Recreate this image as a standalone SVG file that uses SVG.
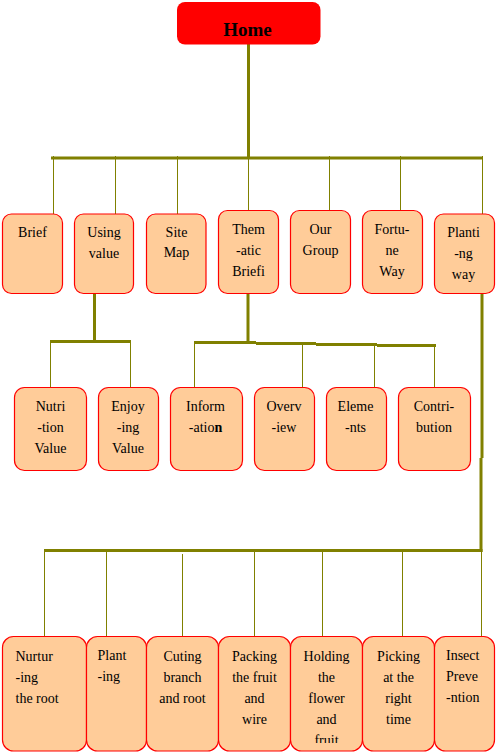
<svg xmlns="http://www.w3.org/2000/svg" width="498" height="755" viewBox="0 0 498 755" font-family="Liberation Serif, Times New Roman, serif">
<style>
.box{fill:#FFCC99;stroke:#FF0000;stroke-width:1.2}
.t{font-size:14px;fill:#000;text-anchor:middle}
.l{text-anchor:start}
.thick{stroke:#808000;stroke-width:3;fill:none}
.thin{stroke:#808000;stroke-width:1;fill:none}
</style>
<defs>
<clipPath id="clipHold"><rect x="290" y="636" width="73" height="107"/></clipPath>
</defs>
<g id="connectors">
<line class="thick" x1="248.5" y1="41" x2="248.5" y2="158"/>
<line class="thick" x1="51" y1="158" x2="483" y2="158"/>
<line class="thin" x1="53.5" y1="156" x2="53.5" y2="214"/>
<line class="thin" x1="115.5" y1="156" x2="115.5" y2="214"/>
<line class="thin" x1="177.5" y1="156" x2="177.5" y2="214"/>
<line class="thin" x1="248.5" y1="156" x2="248.5" y2="211"/>
<line class="thin" x1="329.5" y1="156" x2="329.5" y2="211"/>
<line class="thin" x1="400.5" y1="156" x2="400.5" y2="211"/>
<line class="thin" x1="482.5" y1="156" x2="482.5" y2="214"/>
<line class="thick" x1="94.5" y1="293" x2="94.5" y2="341"/>
<line class="thick" x1="50" y1="341.5" x2="131" y2="341.5"/>
<line class="thin" x1="50.5" y1="341" x2="50.5" y2="388"/>
<line class="thin" x1="130.5" y1="341" x2="130.5" y2="388"/>
<line class="thick" x1="248" y1="293" x2="248" y2="342"/>
<line class="thick" x1="194" y1="342.5" x2="256" y2="342.5"/>
<line class="thick" x1="256" y1="343.5" x2="316" y2="343.5"/>
<line class="thick" x1="316" y1="344.5" x2="377" y2="344.5"/>
<line class="thick" x1="377" y1="345.5" x2="436" y2="345.5"/>
<line class="thin" x1="194.5" y1="342" x2="194.5" y2="388"/>
<line class="thin" x1="302.5" y1="345" x2="302.5" y2="388"/>
<line class="thin" x1="374.5" y1="346" x2="374.5" y2="388"/>
<line class="thin" x1="434.5" y1="346" x2="434.5" y2="388"/>
<line class="thick" x1="482" y1="293" x2="482" y2="458"/>
<line class="thick" x1="481" y1="458" x2="481" y2="552"/>
<line class="thick" x1="44" y1="550.5" x2="482.5" y2="550.5"/>
<line class="thin" x1="44.5" y1="551" x2="44.5" y2="637"/>
<line class="thin" x1="106.5" y1="551" x2="106.5" y2="637"/>
<line class="thin" x1="182.5" y1="554" x2="182.5" y2="637"/>
<line class="thin" x1="254.5" y1="551" x2="254.5" y2="637"/>
<line class="thin" x1="322.5" y1="551" x2="322.5" y2="637"/>
<line class="thin" x1="402.5" y1="551" x2="402.5" y2="637"/>
<line class="thin" x1="481.5" y1="551" x2="481.5" y2="637"/>
</g>
<g id="home">
<rect x="177" y="2" width="143.5" height="42.5" rx="8" fill="#FF0000"/>
<text x="247.5" y="36" font-size="19" font-weight="bold" text-anchor="middle">Home</text>
</g>
<g id="brief"><rect class="box" x="2.5" y="214" width="60" height="79.5" rx="9"/><text class="t" x="32.5" y="236.5">Brief</text></g>
<g id="using-value"><rect class="box" x="74.5" y="214" width="59" height="79.5" rx="9"/><text class="t" x="104" y="237">Using</text><text class="t" x="104" y="257.5">value</text></g>
<g id="site-map"><rect class="box" x="146.5" y="214" width="59.5" height="79.5" rx="9"/><text class="t" x="176.5" y="236.5">Site</text><text class="t" x="176.5" y="257">Map</text></g>
<g id="thematic-brief"><rect class="box" x="218.5" y="210.5" width="60" height="83" rx="9"/><text class="t" x="248.5" y="233.5">Them</text><text class="t" x="248.5" y="254.5">-atic</text><text class="t" x="248.5" y="275.5">Briefi</text></g>
<g id="our-group"><rect class="box" x="290.5" y="210.5" width="60" height="83" rx="9"/><text class="t" x="320.5" y="233.5">Our</text><text class="t" x="320.5" y="254.5">Group</text></g>
<g id="fortune-way"><rect class="box" x="362.5" y="210.5" width="60" height="83" rx="9"/><text class="t" x="392" y="233.5">Fortu-</text><text class="t" x="392" y="254.5">ne</text><text class="t" x="392" y="275.5">Way</text></g>
<g id="planting-way"><rect class="box" x="434.5" y="214" width="60" height="79.5" rx="9"/><text class="t" x="463.5" y="237">Planti</text><text class="t" x="463.5" y="258">-ng</text><text class="t" x="463.5" y="279">way</text></g>
<g id="nutrition-value"><rect class="box" x="14.5" y="387.5" width="72" height="83" rx="10"/><text class="t" x="50.5" y="410.5">Nutri</text><text class="t" x="50.5" y="431.5">-tion</text><text class="t" x="50.5" y="452.5">Value</text></g>
<g id="enjoying-value"><rect class="box" x="98.5" y="387.5" width="60" height="83" rx="10"/><text class="t" x="128" y="410.5">Enjoy</text><text class="t" x="128" y="431.5">-ing</text><text class="t" x="128" y="452.5">Value</text></g>
<g id="information"><rect class="box" x="170.5" y="387.5" width="72" height="83" rx="10"/><text class="t" x="205.5" y="410.5">Inform</text><text class="t" x="205.5" y="431.5">-atio<tspan font-weight="bold">n</tspan></text></g>
<g id="overview"><rect class="box" x="254.5" y="387.5" width="60" height="83" rx="10"/><text class="t" x="284" y="410.5">Overv</text><text class="t" x="284" y="431.5">-iew</text></g>
<g id="elements"><rect class="box" x="326.5" y="387.5" width="60" height="83" rx="10"/><text class="t" x="355.5" y="410.5">Eleme</text><text class="t" x="355.5" y="431.5">-nts</text></g>
<g id="contribution"><rect class="box" x="398.5" y="387.5" width="72" height="83" rx="10"/><text class="t" x="434" y="410.5">Contri-</text><text class="t" x="434" y="431.5">bution</text></g>
<g id="nurturing-root"><rect class="box" x="2.5" y="636.5" width="84" height="114.5" rx="11"/><text class="t l" x="15.5" y="661">Nurtur</text><text class="t l" x="15.5" y="682">-ing</text><text class="t l" x="15.5" y="703">the root</text></g>
<g id="planting"><rect class="box" x="86.5" y="636.5" width="60" height="114.5" rx="11"/><text class="t l" x="97.5" y="660">Plant</text><text class="t l" x="97.5" y="681">-ing</text></g>
<g id="cutting"><rect class="box" x="146.5" y="636.5" width="72" height="114.5" rx="11"/><text class="t" x="182.5" y="661">Cuting</text><text class="t" x="182.5" y="682">branch</text><text class="t" x="182.5" y="703">and root</text></g>
<g id="packing"><rect class="box" x="218.5" y="636.5" width="72" height="114.5" rx="11"/><text class="t" x="254.5" y="661">Packing</text><text class="t" x="254.5" y="682">the fruit</text><text class="t" x="254.5" y="703">and</text><text class="t" x="254.5" y="724">wire</text></g>
<g id="holding"><rect class="box" x="290.5" y="636.5" width="72" height="114.5" rx="11"/><g clip-path="url(#clipHold)"><text class="t" x="326.5" y="661">Holding</text><text class="t" x="326.5" y="682">the</text><text class="t" x="326.5" y="703">flower</text><text class="t" x="326.5" y="724">and</text><text class="t" x="326.5" y="745">fruit</text></g></g>
<g id="picking"><rect class="box" x="362.5" y="636.5" width="72" height="114.5" rx="11"/><text class="t" x="398.5" y="661">Picking</text><text class="t" x="398.5" y="682">at the</text><text class="t" x="398.5" y="703">right</text><text class="t" x="398.5" y="724">time</text></g>
<g id="insect-prevention"><rect class="box" x="434.5" y="636.5" width="60" height="114.5" rx="11"/><text class="t l" x="446" y="660">Insect</text><text class="t l" x="446" y="681">Preve</text><text class="t l" x="446" y="702">-ntion</text></g>
</svg>
